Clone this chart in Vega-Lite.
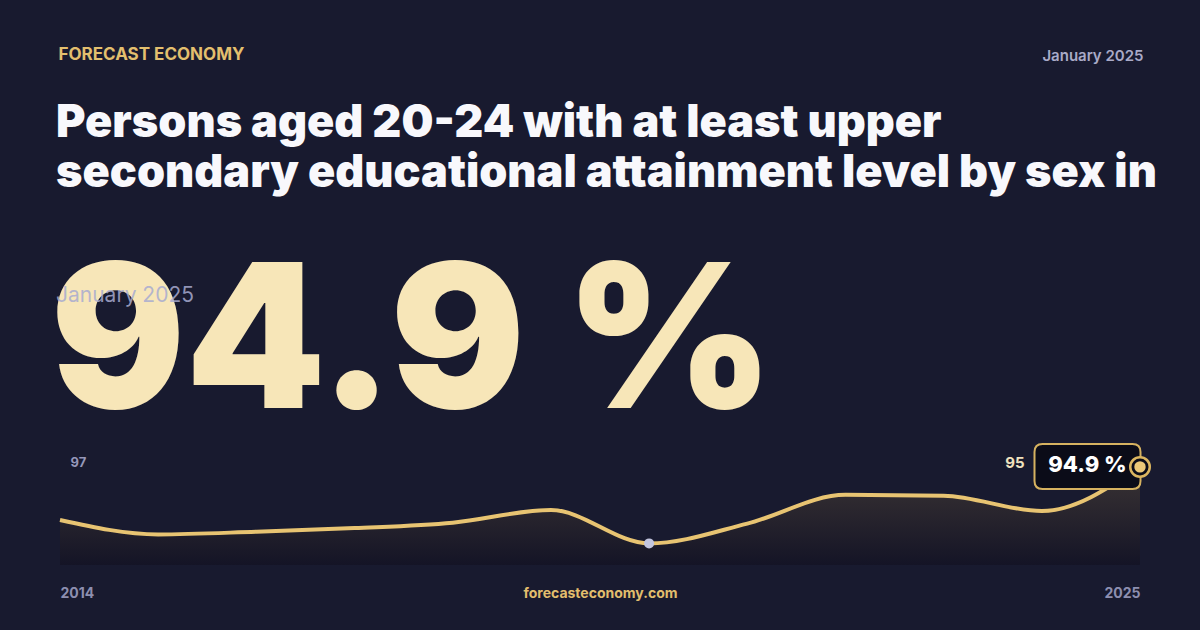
{
  "$schema": "https://vega.github.io/schema/vega-lite/v6.json",
  "width": 1080,
  "height": 117,
  "autosize": {"type": "none"},
  "padding": {"left": 60, "right": 60, "top": 448, "bottom": 65},
  "background": "#181a2f",
  "config": {"view": {"stroke": null}, "font": "Inter"},
  "title": {
    "text": ["Persons aged 20-24 with at least upper", "secondary educational attainment level by sex in"],
    "subtitle": "January 2025",
    "anchor": "start",
    "frame": "group",
    "offset": -261,
    "dx": -4,
    "font": "Inter",
    "fontSize": 45,
    "fontWeight": 900,
    "color": "#f8f8fc",
    "lineHeight": 50,
    "limit": 3000,
    "subtitleFont": "Inter",
    "subtitleFontSize": 21,
    "subtitleFontWeight": 400,
    "subtitleColor": "rgba(168,171,208,0.85)",
    "subtitlePadding": 89
  },
  "datasets": {
    "series": [
      {"year": 2014, "value": 89.0},
      {"year": 2015, "value": 87.4},
      {"year": 2016, "value": 87.7},
      {"year": 2017, "value": 88.1},
      {"year": 2018, "value": 88.7},
      {"year": 2019, "value": 90.1},
      {"year": 2020, "value": 86.4},
      {"year": 2021, "value": 88.6},
      {"year": 2022, "value": 91.8},
      {"year": 2023, "value": 91.7},
      {"year": 2024, "value": 90.0},
      {"year": 2025, "value": 94.9}
    ],
    "latest": [
      {"year": 2025, "value": 94.9, "label": "94.9 %"}
    ]
  },
  "data": {"name": "series"},
  "resolve": {"axis": {"x": "independent", "y": "independent"}},
  "layer": [
    {
      "mark": {
        "type": "area",
        "interpolate": "monotone",
        "fill": {
          "gradient": "linear", "x1": 0, "y1": 0, "x2": 0, "y2": 1,
          "stops": [{"offset": 0, "color": "#3b3434"}, {"offset": 1, "color": "#141426"}]
        }
      },
      "encoding": {
        "x": {
          "field": "year", "type": "quantitative",
          "scale": {"domain": [2014, 2025], "nice": false, "zero": false},
          "axis": {
            "orient": "bottom", "values": [2014, 2025], "format": "d", "labelFlush": true,
            "domain": false, "ticks": false, "tickSize": 0, "grid": false,
            "labelPadding": 32, "labelBaseline": "alphabetic",
            "labelFont": "Inter", "labelFontSize": 14, "labelFontWeight": 700, "labelColor": "#8d8fb0",
            "title": "forecasteconomy.com", "titleFont": "Inter", "titleFontSize": 14, "titleFontWeight": 700,
            "titleColor": "#e2be6d", "titleX": 540, "titleY": 32, "titleAlign": "center", "titleBaseline": "alphabetic"
          }
        },
        "y": {
          "field": "value", "type": "quantitative",
          "scale": {"domain": [84, 97], "nice": false, "zero": false},
          "axis": {
            "orient": "left", "values": [86, 97],
            "domain": false, "ticks": false, "tickSize": 0, "grid": false,
            "labelAlign": "left", "labelBaseline": "middle", "labelPadding": -10,
            "labelOffset": {"condition": {"test": "datum.value == 97", "value": 14}, "value": 1},
            "labelFont": "Inter", "labelFontSize": 13, "labelFontWeight": 700, "labelColor": "#9597b9",
            "title": "94.9 %", "titleAngle": 0, "titleX": -10, "titleY": -41,
            "titleAlign": "left", "titleBaseline": "alphabetic",
            "titleFont": "Inter", "titleFontSize": 200, "titleFontWeight": 900,
            "titleColor": "#f7e6b8",
            "titleLimit": 3000
          }
        },
        "y2": {"datum": 84}
      }
    },
    {
      "mark": {"type": "line", "interpolate": "monotone", "color": "#e8c472", "strokeWidth": 4},
      "encoding": {
        "x": {
          "field": "year", "type": "quantitative",
          "scale": {"domain": [2014, 2025], "nice": false, "zero": false},
          "axis": {
            "orient": "top", "labels": false, "domain": false, "ticks": false, "grid": false,
            "title": "FORECAST ECONOMY", "titleX": -2, "titleY": -389,
            "titleAlign": "left", "titleBaseline": "alphabetic",
            "titleFont": "Inter", "titleFontSize": 17, "titleFontWeight": 700, "titleColor": "#e3bf6e"
          }
        },
        "y": {
          "field": "value", "type": "quantitative",
          "scale": {"domain": [84, 97], "nice": false, "zero": false},
          "axis": {
            "orient": "right", "values": [95],
            "domain": false, "ticks": false, "tickSize": 0, "grid": false,
            "labelAlign": "right", "labelBaseline": "middle", "labelPadding": -116, "labelOffset": -3.5,
            "labelFont": "Inter", "labelFontSize": 15, "labelFontWeight": 700, "labelColor": "#efe2bf",
            "title": "January 2025", "titleAngle": 0, "titleX": 3, "titleY": -388,
            "titleAlign": "right", "titleBaseline": "alphabetic",
            "titleFont": "Inter", "titleFontSize": 15, "titleFontWeight": 600, "titleColor": "#a9aac7"
          }
        }
      }
    },
    {
      "transform": [
        {"joinaggregate": [{"op": "min", "field": "value", "as": "minValue"}]},
        {"filter": "datum.value == datum.minValue"}
      ],
      "mark": {"type": "point", "shape": "circle", "filled": true, "size": 100, "color": "#c3c6df", "opacity": 1},
      "encoding": {
        "x": {"field": "year", "type": "quantitative", "axis": null},
        "y": {"field": "value", "type": "quantitative", "axis": null}
      }
    },
    {
      "data": {"name": "latest"},
      "mark": {
        "type": "point",
        "shape": "M -0.849 -0.4245 L 0.849 -0.4245 Q 1 -0.4245 1 -0.2735 L 1 0.2735 Q 1 0.4245 0.849 0.4245 L -0.849 0.4245 Q -1 0.4245 -1 0.2735 L -1 -0.2735 Q -1 -0.4245 -0.849 -0.4245 Z",
        "size": 11236, "filled": true, "fill": "#0b0c18", "stroke": "#d6b260", "strokeWidth": 2,
        "opacity": 1, "xOffset": -52.5, "yOffset": -0.5
      },
      "encoding": {
        "x": {"field": "year", "type": "quantitative", "axis": null},
        "y": {"field": "value", "type": "quantitative", "axis": null}
      }
    },
    {
      "data": {"name": "latest"},
      "mark": {"type": "point", "shape": "circle", "size": 380, "filled": true, "fill": "#0b0c18", "stroke": "#dcb660", "strokeWidth": 2.5, "opacity": 1},
      "encoding": {
        "x": {"field": "year", "type": "quantitative", "axis": null},
        "y": {"field": "value", "type": "quantitative", "axis": null}
      }
    },
    {
      "data": {"name": "latest"},
      "mark": {"type": "point", "shape": "circle", "size": 130, "filled": true, "color": "#ebc878", "opacity": 1},
      "encoding": {
        "x": {"field": "year", "type": "quantitative", "axis": null},
        "y": {"field": "value", "type": "quantitative", "axis": null}
      }
    },
    {
      "data": {"name": "latest"},
      "mark": {"type": "text", "font": "Inter", "fontSize": 22, "fontWeight": 800, "color": "#ffffff", "align": "center", "baseline": "middle", "xOffset": -52.5, "yOffset": -1.5},
      "encoding": {
        "x": {"field": "year", "type": "quantitative", "axis": null},
        "y": {"field": "value", "type": "quantitative", "axis": null},
        "text": {"field": "label"}
      }
    }
  ]
}
